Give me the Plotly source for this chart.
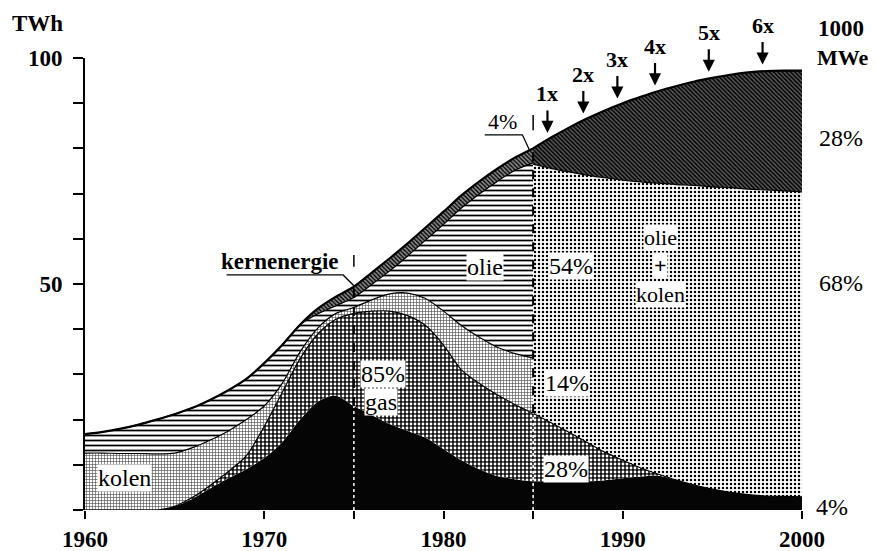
import numpy as np
import plotly.graph_objects as go

# ---------------- data (TWh, upper edges of each layer) ----------------
jaren_a = list(range(1960, 1986))
gas_zwart_a = [0, 0, 0, 0, 0, 0.8, 2.5, 4.8, 7, 9, 11.5, 15, 20, 24, 25.3, 23, 21, 19, 17.5, 16,
               13.5, 11, 9, 7.5, 6.8, 6.3]
gas_a = [0, 0, 0, 0, 0, 0.8, 2.8, 5.5, 8.5, 12, 18.5, 26, 33.5, 39, 42.2, 43.5, 44, 44, 43, 40.8,
         36.5, 31, 28, 25.5, 23.3, 21.4]
kolen_a = [12.6, 12.6, 12.5, 12.5, 12.4, 12.6, 13.8, 15.5, 17.5, 20, 23, 28, 35, 40.3, 43.5, 44.8,
           46.5, 47.8, 48, 46.8, 44, 40.8, 38.2, 36, 34.6, 33.6]
olie_a = [16.8, 17.3, 18, 18.9, 20, 21.2, 22.6, 24.4, 26.5, 29, 32.5, 36.5, 41, 43.4, 45.2, 47,
          49.9, 52.9, 56.2, 59.7, 63.2, 66.8, 69.9, 72.7, 75.2, 76.8]
totaal_a = [16.8, 17.3, 18, 18.9, 20, 21.2, 22.6, 24.4, 26.5, 29, 32.5, 36.5, 41, 44.6, 47.2, 49.4,
            52.5, 55.7, 59, 62.5, 66, 69.6, 72.7, 75.5, 78, 80]

jaren_b = list(range(1985, 2001))
gas_zwart_b = [6.3, 6.2, 6.2, 6.3, 6.6, 7.0, 7.4, 7.6, 6.6, 5.5, 4.6, 3.9, 3.4, 3.1, 3.0, 2.9]
gas_b = [21.4, 19.3, 17.2, 15, 12.8, 11, 9.3, 7.9, 6.6, 5.5, 4.6, 3.9, 3.4, 3.1, 3.0, 2.9]
olie_kolen_b = [76.5, 75.6, 74.8, 74.1, 73.5, 73, 72.6, 72.3, 72, 71.8, 71.5, 71.3, 71.0, 70.8,
                70.6, 70.4]
totaal_b = [80, 82.4, 84.6, 86.6, 88.4, 90, 91.4, 92.7, 93.8, 94.8, 95.6, 96.3, 96.8, 97.1, 97.2,
            97.2]

vermogen_jaren = [1985.8, 1987.8, 1989.7, 1991.8, 1994.8, 1997.8]
vermogen_labels = ["1x", "2x", "3x", "4x", "5x", "6x"]

x_tickvals = [1960, 1970, 1975, 1980, 1985, 1990, 2000]
x_ticktext = ["1960", "1970", "", "1980", "", "1990", "2000"]
y_tickvals = list(range(0, 101, 10))
y_ticktext = ["100" if v == 100 else ("50" if v == 50 else "") for v in y_tickvals]

FONT = "Liberation Serif"

# ---------------- styles ----------------
pat_gas = dict(shape=".", bgcolor="#111111", fgcolor="#ffffff", size=4, solidity=0.38)
pat_kolen = dict(shape="+", bgcolor="#ffffff", fgcolor="#444444", size=3, solidity=0.35)
pat_olie = dict(shape="-", bgcolor="#ffffff", fgcolor="#000000", size=5, solidity=0.35)
pat_kern = dict(shape="\\", bgcolor="#8a8a8a", fgcolor="#000000", size=3, solidity=0.45)
pat_kern2 = dict(shape="\\", bgcolor="#5c5c5c", fgcolor="#000000", size=3, solidity=0.5)
pat_ok = dict(shape=".", bgcolor="#ffffff", fgcolor="#000000", size=4, solidity=0.3)

fig = go.Figure()

def edge(x, y, fill, line_w=1.2, pattern=None, fillcolor=None, color="black"):
    kw = dict(x=x, y=y, mode="lines", fill=fill, hoverinfo="skip", showlegend=False,
              line=dict(color=color, width=line_w, shape="spline", smoothing=0.8))
    if pattern is not None:
        kw["fillpattern"] = pattern
    if fillcolor is not None:
        kw["fillcolor"] = fillcolor
    fig.add_trace(go.Scatter(**kw))

# period 1960-1985
edge(jaren_a, gas_zwart_a, "tozeroy", line_w=0, fillcolor="#050505", color="rgba(0,0,0,0)")
edge(jaren_a, gas_a, "tonexty", pattern=pat_gas)
edge(jaren_a, kolen_a, "tonexty", pattern=pat_kolen)
edge(jaren_a, olie_a, "tonexty", pattern=pat_olie)
edge(jaren_a, totaal_a, "tonexty", line_w=2.2, pattern=pat_kern)

# period 1985-2000
edge(jaren_b, gas_zwart_b, "tozeroy", line_w=0, fillcolor="#050505", color="rgba(0,0,0,0)")
edge(jaren_b, gas_b, "tonexty", pattern=pat_gas)
edge(jaren_b, olie_kolen_b, "tonexty", pattern=pat_ok)
edge(jaren_b, totaal_b, "tonexty", line_w=2.2, pattern=pat_kern2)

# ---------------- vertical marker lines ----------------
shapes = []
for jr, black_top, tot, top_dash in [(1975, gas_zwart_a[15], totaal_a[15], (53.8, 56.4)),
                                     (1985, gas_a[-1], totaal_a[-1], (84.0, 87.4))]:
    shapes.append(dict(type="line", xref="x", yref="y", x0=jr, x1=jr, y0=top_dash[0], y1=top_dash[1],
                       line=dict(color="black", width=1.5), layer="above"))
    shapes.append(dict(type="line", xref="x", yref="y", x0=jr, x1=jr, y0=black_top, y1=tot,
                       line=dict(color="black", width=2, dash="dash"), layer="above"))
    shapes.append(dict(type="line", xref="x", yref="y", x0=jr, x1=jr, y0=0, y1=black_top,
                       line=dict(color="white", width=1.5, dash="dot"), layer="above"))

# leader lines
shapes.append(dict(type="path", xref="x", yref="y",
                   path="M 1967.9 52 L 1974.4 52 L 1975 49.6",
                   line=dict(color="black", width=1.3), layer="above"))
shapes.append(dict(type="path", xref="x", yref="y",
                   path="M 1982.3 83 L 1984.4 83 L 1984.8 79.6",
                   line=dict(color="black", width=1.3), layer="above"))

# ---------------- annotations ----------------
ann = []
def lab(text, x, y, size=24, bg="white", xref="x", yref="y", bold=False, xanchor="center"):
    ann.append(dict(text=text, x=x, y=y, xref=xref, yref=yref, showarrow=False,
                    xanchor=xanchor, yanchor="middle", bgcolor=bg, borderpad=0,
                    font=dict(family=FONT, size=size, color="black",
                              weight="bold" if bold else "normal")))

lab("kolen", 1962.2, 7.1)
lab("kernenergie", 1970.9, 54.9, bg="rgba(0,0,0,0)", bold=True, size=23)
lab("olie", 1982.3, 53.8)
lab("54%", 1987.1, 54.0)
lab("85%", 1976.6, 30.1)
lab("gas", 1976.5, 23.9)
lab("14%", 1986.9, 28.1)
lab("28%", 1986.85, 9.1)
lab("4%", 1983.3, 85.9, bg="rgba(0,0,0,0)", size=22)
lab("olie", 1992.1, 60.3, size=22)
lab("+", 1992.1, 54.0, size=22, bold=True)
lab("kolen", 1992.1, 47.7, size=22)

# right-hand labels (paper coords)
lab("28%", 1.022, 0.823, xref="paper", yref="paper", bg="rgba(0,0,0,0)", xanchor="left")
lab("68%", 1.022, 0.502, xref="paper", yref="paper", bg="rgba(0,0,0,0)", xanchor="left")
lab("4%", 1.018, 0.007, xref="paper", yref="paper", bg="rgba(0,0,0,0)", xanchor="left")
lab("1000", 1.021, 1.066, xref="paper", yref="paper", bg="rgba(0,0,0,0)", bold=True, size=23,
    xanchor="left")
lab("MWe", 1.0195, 1.002, xref="paper", yref="paper", bg="rgba(0,0,0,0)", bold=True, size=22,
    xanchor="left")
lab("TWh", -0.066, 1.077, xref="paper", yref="paper", bg="rgba(0,0,0,0)", bold=True, size=23)

jaren_alle = jaren_a + jaren_b[1:]
totaal_alle = totaal_a + totaal_b[1:]
for jr, t in zip(vermogen_jaren, vermogen_labels):
    tip = float(np.interp(jr, jaren_alle, totaal_alle)) + 1.5
    ann.append(dict(x=jr, y=tip, xref="x", yref="y", text="", showarrow=True, ax=0, ay=-24,
                    arrowhead=2, arrowsize=1.1, arrowwidth=2.2, arrowcolor="black"))
    ann.append(dict(x=jr, y=tip, xref="x", yref="y", text=t, showarrow=False, yshift=39,
                    font=dict(family=FONT, size=22, color="black", weight="bold")))

fig.update_layout(
    template="none",
    width=868, height=543,
    margin=dict(l=77, r=74, t=50, b=41, autoexpand=False),
    paper_bgcolor="white", plot_bgcolor="white",
    showlegend=False,
    shapes=shapes, annotations=ann,
    xaxis=dict(range=[1960, 2000], showgrid=False, zeroline=False, showline=False,
               automargin=False,
               ticks="outside", ticklen=8, tickwidth=1.5, tickcolor="black",
               tickvals=x_tickvals, ticktext=x_ticktext,
               tickfont=dict(family=FONT, size=23, color="black", weight="bold")),
    yaxis=dict(range=[0, 100], showgrid=False, zeroline=False, showline=True,
               automargin=False,
               linecolor="black", linewidth=2, ticks="outside", ticklen=10, tickwidth=1.5,
               tickcolor="black", tickvals=y_tickvals, ticktext=y_ticktext,
               ticklabelstandoff=6,
               tickfont=dict(family=FONT, size=23, color="black", weight="bold")),
)

fig.write_html("out.html")
